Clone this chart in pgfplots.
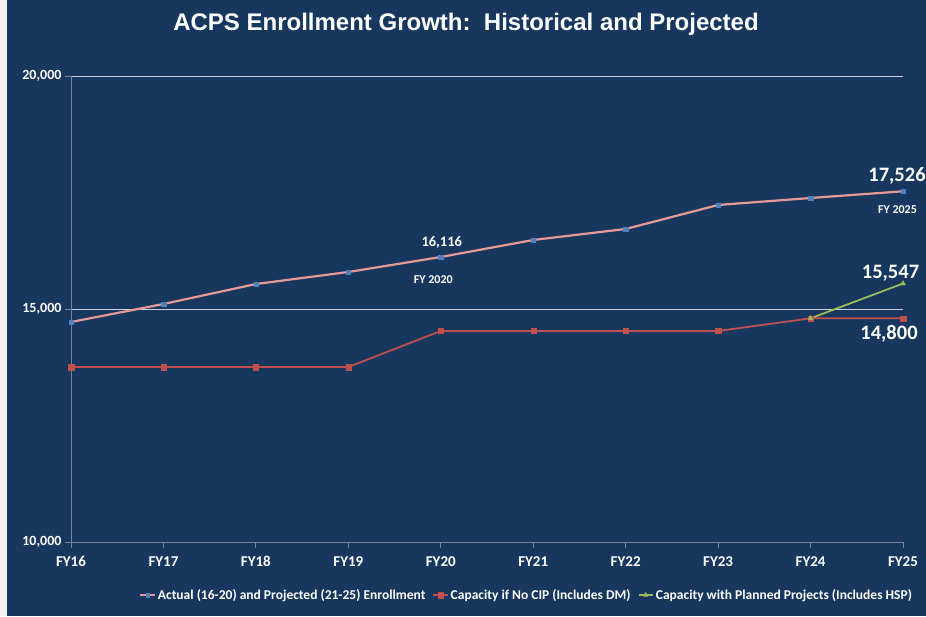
\documentclass[border=0pt]{standalone}
\usepackage{pgfplots}
\pgfplotsset{compat=1.18}
\usepackage{fontspec}
\setmainfont{Carlito}
\newfontfamily\titlefont{Liberation Sans}
\definecolor{bg}{RGB}{23,55,94}
\definecolor{enr}{RGB}{230,153,150}
\definecolor{enrmark}{RGB}{79,129,189}
\definecolor{capred}{RGB}{192,80,77}
\definecolor{capgreen}{RGB}{155,187,89}
\definecolor{axgrey}{RGB}{120,132,152}
\definecolor{gridc}{RGB}{205,210,220}
\begin{document}
\begin{tikzpicture}[x=1pt,y=1pt]
\fill[bg] (0,0) rectangle (926,616);
\fill[black!6] (0,0) rectangle (7,616);
\useasboundingbox (0,0) rectangle (926,616);
\node[text=white, font=\titlefont\bfseries\fontsize{24}{28}\selectfont] at (466,592) {ACPS Enrollment Growth:\ \ Historical and Projected};
\begin{axis}[
  at={(71pt,74pt)}, anchor=south west,
  width=832pt, height=466pt, scale only axis,
  xmin=0, xmax=9, ymin=10000, ymax=20000,
  xtick={0,...,9},
  xticklabels={FY16,FY17,FY18,FY19,FY20,FY21,FY22,FY23,FY24,FY25},
  ytick={10000,15000,20000},
  axis x line=bottom, axis y line=left,
  axis line style={axgrey, line width=0.8pt, -},
  tick align=outside,
  major tick length=6pt,
  tick style={axgrey, line width=0.8pt},
  ymajorgrids, grid style={gridc, line width=0.8pt},
  /pgf/number format/assume math mode=true,
  /pgf/number format/1000 sep={,},
  scaled y ticks=false,
  ticklabel style={text=white},
  xticklabel style={yshift=-5pt, font=\bfseries\fontsize{15}{17}\selectfont},
  yticklabel style={xshift=0pt, font=\bfseries\fontsize{14}{16}\selectfont},
  clip=false,
  legend columns=3,
  legend style={at={(1.017,-0.114)}, anchor=east, draw=none, fill=none,
    text=white, font=\bfseries\fontsize{13.5}{15}\selectfont,
    /tikz/every even column/.append style={column sep=5pt}},
  legend cell align=left,
  legend image post style={xscale=0.85},
]
\addplot[enr, line width=2.2pt, mark=square*, mark size=2.2pt,
  mark options={enrmark, fill=enrmark, line width=0.2pt}]
  coordinates {(0,14721) (1,15107) (2,15536) (3,15794) (4,16116) (5,16481) (6,16717) (7,17232) (8,17382) (9,17526)};
\addlegendentry{Actual (16-20) and Projected (21-25) Enrollment}
\addplot[capred, line width=1.8pt, mark=square*, mark size=2.6pt,
  mark options={capred, fill=capred, line width=0.2pt}]
  coordinates {(0,13755) (1,13755) (2,13755) (3,13755) (4,14528) (5,14528) (6,14528) (7,14528) (8,14800) (9,14800)};
\addlegendentry{Capacity if No CIP (Includes DM)}
\addplot[capgreen, line width=1.8pt, mark=triangle*, mark size=3pt,
  mark options={capgreen, fill=capgreen, line width=0.2pt}]
  coordinates {(8,14800) (9,15547)};
\addlegendentry{Capacity with Planned Projects (Includes HSP)}
\node[text=white, font=\bfseries\fontsize{14.5}{16}\selectfont, xshift=1pt, yshift=14pt] at (axis cs:4,16116) {16,116};
\node[text=white, font=\bfseries\fontsize{12}{14}\selectfont, xshift=-7.5pt, yshift=-23pt] at (axis cs:4,16116) {FY 2020};
\node[text=white, font=\bfseries\fontsize{20.5}{23}\selectfont, xshift=-6pt, yshift=15pt] at (axis cs:9,17526) {17,526};
\node[text=white, font=\bfseries\fontsize{12}{14}\selectfont, xshift=-5.5pt, yshift=-18pt] at (axis cs:9,17526) {FY 2025};
\node[text=white, font=\bfseries\fontsize{20.5}{23}\selectfont, xshift=-12.5pt, yshift=10pt] at (axis cs:9,15547) {15,547};
\node[text=white, font=\bfseries\fontsize{20.5}{23}\selectfont, xshift=-14pt, yshift=-15.5pt] at (axis cs:9,14800) {14,800};
\end{axis}
\end{tikzpicture}
\end{document}
